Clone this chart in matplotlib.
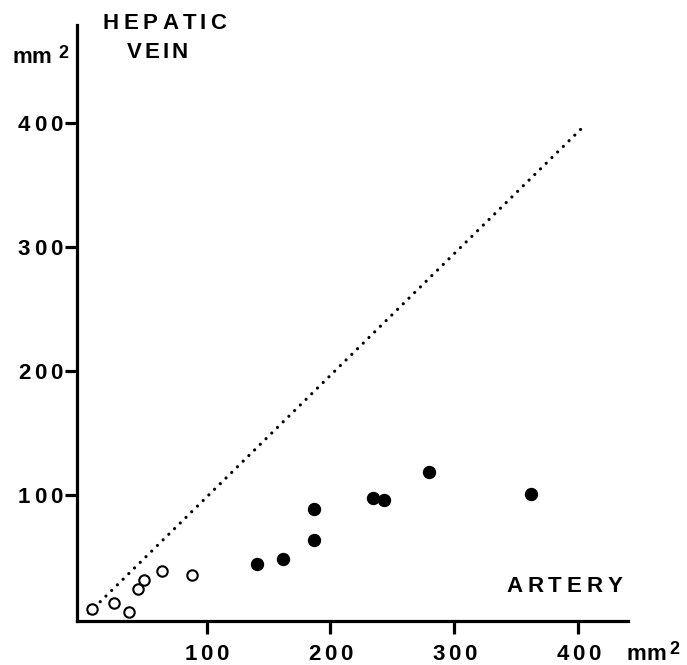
import matplotlib
matplotlib.use("Agg")
import matplotlib.pyplot as plt
from matplotlib.font_manager import FontProperties

# open circles
open_x = [7.3, 25.3, 37.8, 45.0, 49.9, 63.9, 88.4]
open_y = [8.1, 13.1, 5.9, 24.4, 31.5, 38.5, 35.5]

# filled circles
fill_x = [140.4, 161.4, 186.5, 186.7, 234.2, 243.3, 279.5, 361.4]
fill_y = [44.1, 48.1, 88.5, 63.7, 97.8, 96.0, 118.3, 100.6]

# identity line
line_x = [5, 405]
line_y = [5, 398]

ticks = [100, 200, 300, 400]
tick_labels = ["100", "200", "300", "400"]

W, H = 687, 665
FONT = ["Liberation Sans", "DejaVu Sans"]
plt.rcParams["font.family"] = FONT
plt.rcParams["font.weight"] = "bold"

fig = plt.figure(figsize=(W / 100, H / 100), dpi=100)
ax = fig.add_axes([77 / W, 44 / H, 551 / W, 596 / H])
renderer = fig.canvas.get_renderer()


def spaced(x, base, s, size=16, track=0, ha="left"):
    # letter-spaced text, x and baseline in pixels from top-left
    prop = FontProperties(family=FONT, weight="bold", size=size)
    width = lambda t: renderer.get_text_width_height_descent(t, prop, ismath=False)[0] if t else 0
    total = width(s) + (len(s) - 1) * track
    x0 = {"left": x, "center": x - total / 2, "right": x - total}[ha]
    for i, ch in enumerate(s):
        fig.text((x0 + width(s[:i]) + i * track) / W, 1 - base / H, ch,
                 fontproperties=prop, ha="left", va="baseline")


ax.plot(line_x, line_y, color="black", linewidth=2.3,
        linestyle=(0, (0.01, 2.5)), dash_capstyle="round")
ax.plot(fill_x, fill_y, "o", color="black", markersize=8.6)
ax.plot(open_x, open_y, "o", markerfacecolor="white", markeredgecolor="black",
        markersize=7.5, markeredgewidth=1.5)

ax.set_xlim(-4.5, 440)
ax.set_ylim(-1.5, 479)
ax.spines["top"].set_visible(False)
ax.spines["right"].set_visible(False)
ax.spines["left"].set_linewidth(2.3)
ax.spines["bottom"].set_linewidth(2.3)

ax.set_xticks(ticks)
ax.set_yticks(ticks)
ax.set_xticklabels([])
ax.set_yticklabels([])
ax.tick_params(axis="both", direction="out", length=9, width=2.3)

# tick labels, spaced like the original lettering
for t, lab in zip(ticks, tick_labels):
    px, _ = ax.transData.transform((t, 0))
    spaced(px, 660, lab, track=3.5, ha="center")
    _, py = ax.transData.transform((0, t))
    spaced(62, H - py + 8, lab, track=3.5, ha="right")

spaced(102, 29, "HEPATIC", track=5)
spaced(127, 58, "VEIN", track=3)
spaced(506, 592, "ARTERY", track=5)

# mm^2 units
spaced(12, 63, "mm")
spaced(58, 58, "2", size=13)
spaced(627, 660, "mm")
spaced(669, 654, "2", size=13)

fig.savefig("out.png", dpi=100)
